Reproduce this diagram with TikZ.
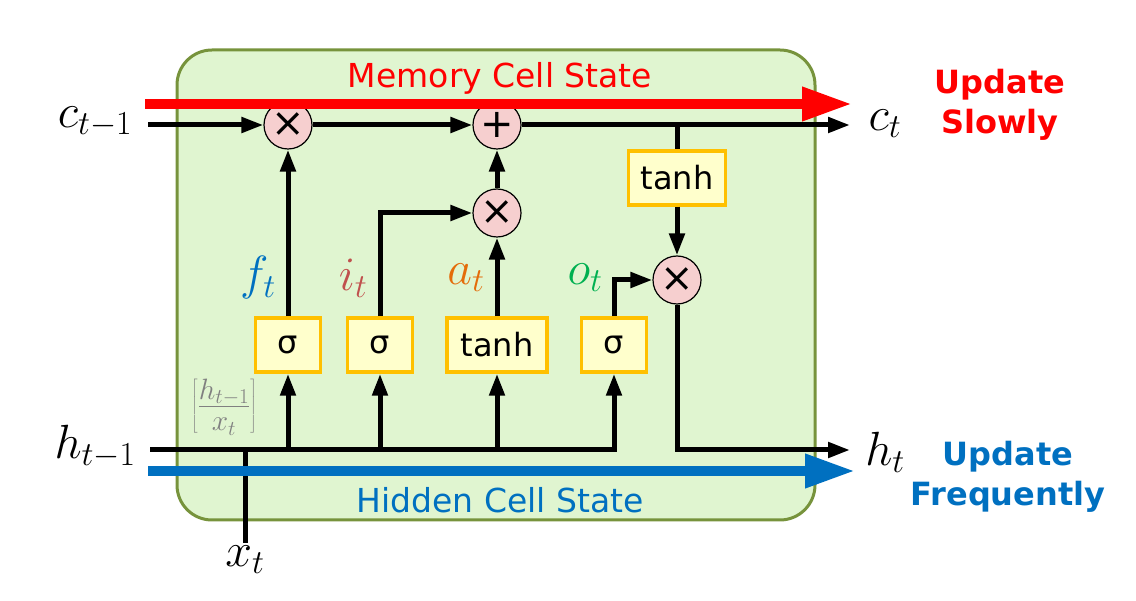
\RequirePackage{fix-cm}
\documentclass[tikz,border=0pt]{standalone}
\usepackage{fontspec}
\setmainfont{DejaVu Sans}
\usepackage{xcolor}
\usetikzlibrary{positioning,arrows.meta}

\definecolor{cellfill}{HTML}{E0F5D0}
\definecolor{celledge}{HTML}{77933C}
\definecolor{gatefill}{HTML}{FFFFCC}
\definecolor{gateedge}{HTML}{FFC000}
\definecolor{opfill}{HTML}{F6CFCF}
\definecolor{memred}{HTML}{FF0000}
\definecolor{hidblue}{HTML}{0070C0}
\definecolor{fcol}{HTML}{0070C0}
\definecolor{icol}{HTML}{C0504D}
\definecolor{acol}{HTML}{E46C0A}
\definecolor{ocol}{HTML}{00B050}

\begin{document}
\begin{tikzpicture}[
    x=1pt, y=-1pt,
    >={Triangle[length=22pt,width=15pt]},
    wire/.style={line width=5pt},
    gate/.style={rectangle, draw=gateedge, fill=gatefill, line width=3.5pt, minimum width=65pt, minimum height=54pt, inner sep=0pt, font=\fontsize{32}{36}\selectfont},
    op/.style={circle, draw=black, line width=1.2pt, fill=opfill, minimum size=48pt, inner sep=0pt, font=\fontsize{40}{40}\selectfont},
    band/.style={line width=10pt, -{Triangle[length=50pt,width=32pt]}},
    lbl/.style={font=\fontsize{48}{48}\selectfont},
    title/.style={font=\fontsize{33}{36}\selectfont},
    note/.style={font=\fontsize{32}{40}\selectfont\bfseries, align=center}
]
\useasboundingbox (0,0) rectangle (1136,601);

% === Cell body ===
\draw[draw=celledge, fill=cellfill, line width=3pt, rounded corners=35pt] (177,50) rectangle (815,520);
\node[title, text=memred] (memtitle) at (500,78) {Memory Cell State};
\node[title, text=hidblue] (hidtitle) at (500,500) {Hidden Cell State};

% Inputs and outputs
\node[lbl] (cprev) at (95,122) {$c_{t-1}$};
\node[lbl] (cnext) at (885,124) {$c_t$};
\node[lbl] (hprev) at (95,447) {$h_{t-1}$};
\node[lbl] (hnext) at (885,452) {$h_t$};
\node[lbl] (xin) at (245,560) {$x_t$};
\coordinate (cin) at (148,125);
\coordinate (cend) at (850,125);
\coordinate (hin) at (150,450);
\coordinate (hend) at (850,450);

% Pointwise operations
\node[op] (mf) at (288,125) {×};
\node[op] (add) at (497,125) {+};
\node[op] (mi) at (497,213) {×};
\node[op] (mo) at (677,280) {×};

% Gates
\node[gate] (sf) at (288,345) {σ};
\node[gate] (si) at (380,345) {σ};
\node[gate, minimum width=100pt] (ta) at (497,345) {tanh};
\node[gate] (so) at (614,345) {σ};
\node[gate, minimum width=97pt] (tc) at (677,178) {tanh};

% Gate outputs
\node[lbl, text=fcol] (flbl) at (258,278) {$f_t$};
\node[lbl, text=icol] (ilbl) at (353,278) {$i_t$};
\node[lbl, text=acol] (albl) at (466,278) {$a_t$};
\node[lbl, text=ocol] (olbl) at (585,278) {$o_t$};
\node[text=gray, font=\fontsize{42}{42}\selectfont] (cat) at (224,407) {$\left[\frac{h_{t-1}}{x_t}\right]$};

% Memory path
\draw[wire,->] (cin) -- (mf);
\draw[wire,->] (mf) -- (add);
\draw[wire,->] (add) -- (cend);
\draw[wire] (tc.north |- add) -- (tc.north);
\draw[wire,->] (tc) -- (mo);

% Gate wiring
\draw[wire,->] (sf) -- (mf);
\draw[wire,->] (si.north) |- (mi);
\draw[wire,->] (ta) -- (mi);
\draw[wire,->] (mi) -- (add);
\draw[wire,->] (so.north) |- (mo);
\draw[wire,->] (mo) |- (hend);

% Hidden input bus
\draw[wire] (xin.north) -- (xin.north |- hin);
\draw[wire,->] (hin) -| (so.south);
\draw[wire,->] (sf.south |- hin) -- (sf);
\draw[wire,->] (si.south |- hin) -- (si);
\draw[wire,->] (ta.south |- hin) -- (ta);

% State bands
\coordinate (memL) at (145,104);
\coordinate (memR) at (852,104);
\coordinate (hidL) at (148,471);
\coordinate (hidR) at (855,471);
\draw[band, memred] (memL) -- (memR);
\draw[band, hidblue] (hidL) -- (hidR);

\node[note, text=memred] (slow) at (1000,105) {Update\\Slowly};
\node[note, text=hidblue] (freq) at (1008,477) {Update\\Frequently};
\end{tikzpicture}
\end{document}
